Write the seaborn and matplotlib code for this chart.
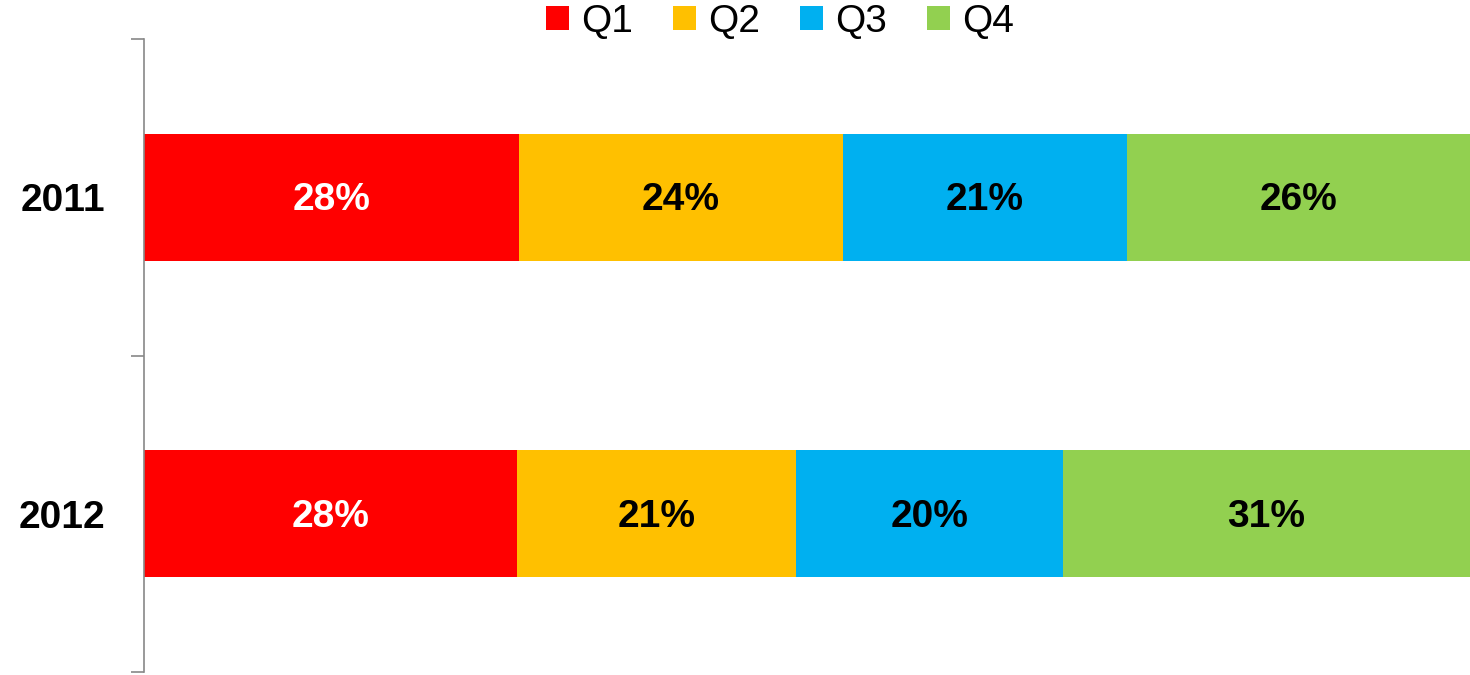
import numpy as np
import pandas as pd
import seaborn as sns
import matplotlib.pyplot as plt
from matplotlib.patches import Patch

years = ["2011", "2012"]
quarters = ["Q1", "Q2", "Q3", "Q4"]
q1 = [28.3, 28.1]
q2 = [24.4, 21.1]
q3 = [21.4, 20.1]
q4 = [25.9, 30.7]
labels = [["28%", "28%"], ["24%", "21%"], ["21%", "20%"], ["26%", "31%"]]
colors = ["#FF0000", "#FFC000", "#00B0F0", "#92D050"]
text_colors = ["white", "black", "black", "black"]

sns.set_style("white")
plt.rcParams["font.family"] = ["Liberation Sans", "DejaVu Sans"]
plt.rcParams["text.color"] = "black"
plt.rcParams["ytick.color"] = "black"

vals = np.array([q1, q2, q3, q4])
cum = vals.cumsum(axis=0)

fig = plt.figure(figsize=(14.7, 6.75), dpi=100)
ax = fig.add_axes([144 / 1470, 3 / 675, 1 - 144 / 1470, (672 - 39) / 675])

# draw cumulative totals from the back (Q4) to the front (Q1)
for i in range(3, -1, -1):
    df = pd.DataFrame({"year": years, "value": cum[i]})
    sns.barplot(data=df, y="year", x="value", orient="h", color=colors[i],
                width=0.4, linewidth=0, saturation=1, ax=ax)

for i in range(4):
    for j in range(2):
        mid = cum[i][j] - vals[i][j] / 2
        ax.text(mid, j + 0.01, labels[i][j], ha="center", va="center",
                fontsize=28, fontweight="bold", color=text_colors[i])

ax.set_xlim(0, 100)
ax.set_ylim(1.5, -0.5)
ax.set_xlabel("")
ax.set_ylabel("")
ax.set_xticks([])
for s in ["top", "right", "bottom"]:
    ax.spines[s].set_visible(False)
ax.spines["left"].set_color("#888888")
ax.spines["left"].set_linewidth(1.2)

ax.set_yticks([0, 1])
ax.set_yticklabels(years, fontsize=28, fontweight="bold", color="black")
ax.tick_params(axis="y", which="major", length=0, pad=28)
ax.set_yticks([-0.5, 0.5, 1.5], minor=True)
ax.tick_params(axis="y", which="minor", length=9.5, width=1.2, color="#888888", left=True)

handles = [Patch(facecolor=c, edgecolor="none", label=q) for c, q in zip(colors, quarters)]
fig.legend(handles=handles, loc="center", bbox_to_anchor=(780 / 1470, 1 - 22 / 675),
           ncol=4, frameon=False, fontsize=28, handlelength=0.58, handleheight=0.58,
           handletextpad=0.3, columnspacing=1.05, borderpad=0, labelcolor="black")

fig.savefig("out.png", dpi=100)
